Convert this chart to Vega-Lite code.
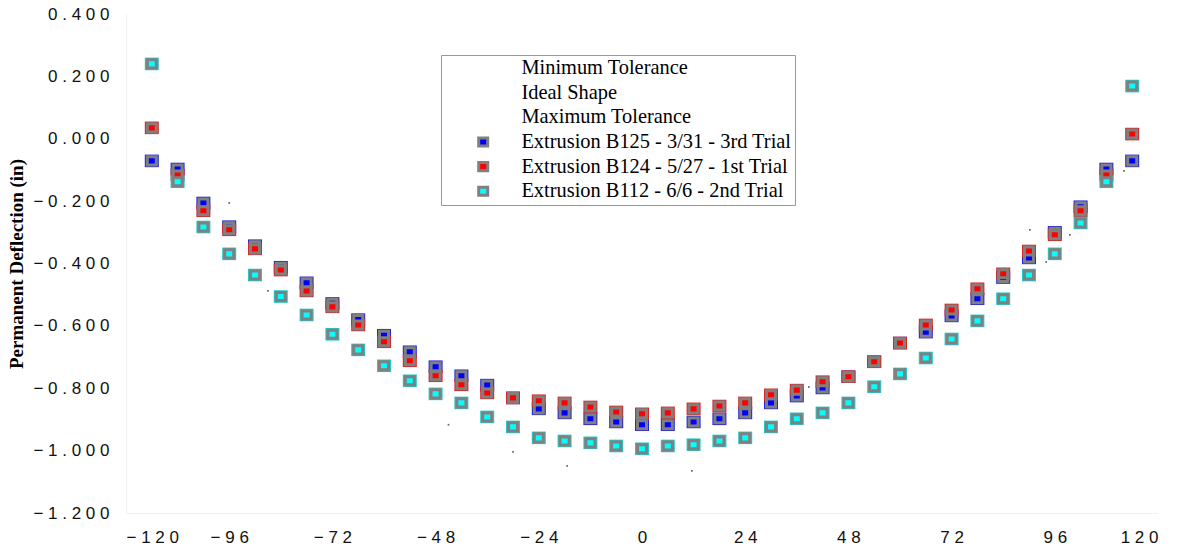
{
  "$schema": "https://vega.github.io/schema/vega-lite/v6.json",
  "width": 1032,
  "height": 499,
  "autosize": {"type": "none"},
  "padding": {"left": 126, "top": 14, "right": 35, "bottom": 39},
  "background": "white",
  "config": {
    "view": {"stroke": null},
    "axis": {
      "grid": false,
      "ticks": false,
      "domainColor": "#f2f2f2",
      "labelFont": "Liberation Sans",
      "labelFontSize": 17,
      "labelColor": "#111111",
      "labelPadding": 17
    },
    "legend": {
      "orient": "none",
      "legendX": 315,
      "legendY": 41,
      "fillColor": "white",
      "strokeColor": "#999999",
      "padding": 3,
      "labelFont": "Liberation Serif",
      "labelFontSize": 20.4,
      "labelColor": "#000000",
      "labelLimit": 500,
      "symbolType": "M-1,-0.9H1V0.9H-1Z",
      "symbolSize": 81,
      "symbolStrokeWidth": 3,
      "symbolOffset": 29,
      "labelOffset": 28,
      "rowPadding": 3.6
    }
  },
  "datasets": {
    "trials": [
      {"x": -114, "Extrusion B125 - 3/31 - 3rd Trial": -0.071, "Extrusion B124 - 5/27 - 1st Trial": 0.035, "Extrusion B112 - 6/6 - 2nd Trial": 0.240},
      {"x": -108, "Extrusion B125 - 3/31 - 3rd Trial": -0.097, "Extrusion B124 - 5/27 - 1st Trial": -0.116, "Extrusion B112 - 6/6 - 2nd Trial": -0.138},
      {"x": -102, "Extrusion B125 - 3/31 - 3rd Trial": -0.206, "Extrusion B124 - 5/27 - 1st Trial": -0.231, "Extrusion B112 - 6/6 - 2nd Trial": -0.283},
      {"x": -96, "Extrusion B125 - 3/31 - 3rd Trial": -0.282, "Extrusion B124 - 5/27 - 1st Trial": -0.292, "Extrusion B112 - 6/6 - 2nd Trial": -0.369},
      {"x": -90, "Extrusion B125 - 3/31 - 3rd Trial": -0.343, "Extrusion B124 - 5/27 - 1st Trial": -0.353, "Extrusion B112 - 6/6 - 2nd Trial": -0.437},
      {"x": -84, "Extrusion B125 - 3/31 - 3rd Trial": -0.412, "Extrusion B124 - 5/27 - 1st Trial": -0.421, "Extrusion B112 - 6/6 - 2nd Trial": -0.506},
      {"x": -78, "Extrusion B125 - 3/31 - 3rd Trial": -0.462, "Extrusion B124 - 5/27 - 1st Trial": -0.488, "Extrusion B112 - 6/6 - 2nd Trial": -0.565},
      {"x": -72, "Extrusion B125 - 3/31 - 3rd Trial": -0.528, "Extrusion B124 - 5/27 - 1st Trial": -0.539, "Extrusion B112 - 6/6 - 2nd Trial": -0.627},
      {"x": -66, "Extrusion B125 - 3/31 - 3rd Trial": -0.580, "Extrusion B124 - 5/27 - 1st Trial": -0.597, "Extrusion B112 - 6/6 - 2nd Trial": -0.677},
      {"x": -60, "Extrusion B125 - 3/31 - 3rd Trial": -0.630, "Extrusion B124 - 5/27 - 1st Trial": -0.651, "Extrusion B112 - 6/6 - 2nd Trial": -0.728},
      {"x": -54, "Extrusion B125 - 3/31 - 3rd Trial": -0.683, "Extrusion B124 - 5/27 - 1st Trial": -0.712, "Extrusion B112 - 6/6 - 2nd Trial": -0.776},
      {"x": -48, "Extrusion B125 - 3/31 - 3rd Trial": -0.731, "Extrusion B124 - 5/27 - 1st Trial": -0.760, "Extrusion B112 - 6/6 - 2nd Trial": -0.818},
      {"x": -42, "Extrusion B125 - 3/31 - 3rd Trial": -0.760, "Extrusion B124 - 5/27 - 1st Trial": -0.789, "Extrusion B112 - 6/6 - 2nd Trial": -0.847},
      {"x": -36, "Extrusion B125 - 3/31 - 3rd Trial": -0.790, "Extrusion B124 - 5/27 - 1st Trial": -0.815, "Extrusion B112 - 6/6 - 2nd Trial": -0.892},
      {"x": -30, "Extrusion B125 - 3/31 - 3rd Trial": -0.831, "Extrusion B124 - 5/27 - 1st Trial": -0.831, "Extrusion B112 - 6/6 - 2nd Trial": -0.924},
      {"x": -24, "Extrusion B125 - 3/31 - 3rd Trial": -0.866, "Extrusion B124 - 5/27 - 1st Trial": -0.840, "Extrusion B112 - 6/6 - 2nd Trial": -0.959},
      {"x": -18, "Extrusion B125 - 3/31 - 3rd Trial": -0.879, "Extrusion B124 - 5/27 - 1st Trial": -0.847, "Extrusion B112 - 6/6 - 2nd Trial": -0.969},
      {"x": -12, "Extrusion B125 - 3/31 - 3rd Trial": -0.898, "Extrusion B124 - 5/27 - 1st Trial": -0.860, "Extrusion B112 - 6/6 - 2nd Trial": -0.975},
      {"x": -6, "Extrusion B125 - 3/31 - 3rd Trial": -0.908, "Extrusion B124 - 5/27 - 1st Trial": -0.876, "Extrusion B112 - 6/6 - 2nd Trial": -0.985},
      {"x": 0, "Extrusion B125 - 3/31 - 3rd Trial": -0.917, "Extrusion B124 - 5/27 - 1st Trial": -0.882, "Extrusion B112 - 6/6 - 2nd Trial": -0.994},
      {"x": 6, "Extrusion B125 - 3/31 - 3rd Trial": -0.917, "Extrusion B124 - 5/27 - 1st Trial": -0.879, "Extrusion B112 - 6/6 - 2nd Trial": -0.985},
      {"x": 12, "Extrusion B125 - 3/31 - 3rd Trial": -0.908, "Extrusion B124 - 5/27 - 1st Trial": -0.866, "Extrusion B112 - 6/6 - 2nd Trial": -0.981},
      {"x": 18, "Extrusion B125 - 3/31 - 3rd Trial": -0.898, "Extrusion B124 - 5/27 - 1st Trial": -0.857, "Extrusion B112 - 6/6 - 2nd Trial": -0.969},
      {"x": 24, "Extrusion B125 - 3/31 - 3rd Trial": -0.879, "Extrusion B124 - 5/27 - 1st Trial": -0.847, "Extrusion B112 - 6/6 - 2nd Trial": -0.959},
      {"x": 30, "Extrusion B125 - 3/31 - 3rd Trial": -0.847, "Extrusion B124 - 5/27 - 1st Trial": -0.821, "Extrusion B112 - 6/6 - 2nd Trial": -0.924},
      {"x": 36, "Extrusion B125 - 3/31 - 3rd Trial": -0.825, "Extrusion B124 - 5/27 - 1st Trial": -0.806, "Extrusion B112 - 6/6 - 2nd Trial": -0.898},
      {"x": 42, "Extrusion B125 - 3/31 - 3rd Trial": -0.799, "Extrusion B124 - 5/27 - 1st Trial": -0.779, "Extrusion B112 - 6/6 - 2nd Trial": -0.879},
      {"x": 48, "Extrusion B125 - 3/31 - 3rd Trial": -0.763, "Extrusion B124 - 5/27 - 1st Trial": -0.763, "Extrusion B112 - 6/6 - 2nd Trial": -0.847},
      {"x": 54, "Extrusion B125 - 3/31 - 3rd Trial": -0.715, "Extrusion B124 - 5/27 - 1st Trial": -0.715, "Extrusion B112 - 6/6 - 2nd Trial": -0.795},
      {"x": 60, "Extrusion B125 - 3/31 - 3rd Trial": -0.655, "Extrusion B124 - 5/27 - 1st Trial": -0.655, "Extrusion B112 - 6/6 - 2nd Trial": -0.754},
      {"x": 66, "Extrusion B125 - 3/31 - 3rd Trial": -0.620, "Extrusion B124 - 5/27 - 1st Trial": -0.597, "Extrusion B112 - 6/6 - 2nd Trial": -0.703},
      {"x": 72, "Extrusion B125 - 3/31 - 3rd Trial": -0.568, "Extrusion B124 - 5/27 - 1st Trial": -0.549, "Extrusion B112 - 6/6 - 2nd Trial": -0.642},
      {"x": 78, "Extrusion B125 - 3/31 - 3rd Trial": -0.513, "Extrusion B124 - 5/27 - 1st Trial": -0.481, "Extrusion B112 - 6/6 - 2nd Trial": -0.584},
      {"x": 84, "Extrusion B125 - 3/31 - 3rd Trial": -0.445, "Extrusion B124 - 5/27 - 1st Trial": -0.433, "Extrusion B112 - 6/6 - 2nd Trial": -0.513},
      {"x": 90, "Extrusion B125 - 3/31 - 3rd Trial": -0.382, "Extrusion B124 - 5/27 - 1st Trial": -0.360, "Extrusion B112 - 6/6 - 2nd Trial": -0.437},
      {"x": 96, "Extrusion B125 - 3/31 - 3rd Trial": -0.300, "Extrusion B124 - 5/27 - 1st Trial": -0.308, "Extrusion B112 - 6/6 - 2nd Trial": -0.369},
      {"x": 102, "Extrusion B125 - 3/31 - 3rd Trial": -0.218, "Extrusion B124 - 5/27 - 1st Trial": -0.231, "Extrusion B112 - 6/6 - 2nd Trial": -0.270},
      {"x": 108, "Extrusion B125 - 3/31 - 3rd Trial": -0.097, "Extrusion B124 - 5/27 - 1st Trial": -0.116, "Extrusion B112 - 6/6 - 2nd Trial": -0.138},
      {"x": 114, "Extrusion B125 - 3/31 - 3rd Trial": -0.071, "Extrusion B124 - 5/27 - 1st Trial": 0.015, "Extrusion B112 - 6/6 - 2nd Trial": 0.169}
    ],
    "dots": [
      {"x": -96, "y": -0.206},
      {"x": -87, "y": -0.488},
      {"x": -45, "y": -0.917},
      {"x": -30, "y": -1.004},
      {"x": -17.4, "y": -1.049},
      {"x": 11.6, "y": -1.065},
      {"x": 38.8, "y": -0.796},
      {"x": 90.2, "y": -0.292},
      {"x": 94, "y": -0.395},
      {"x": 99.5, "y": -0.308},
      {"x": 112.1, "y": -0.103}
    ]
  },
  "layer": [
    {
      "data": {"name": "dots"},
      "mark": {"type": "square", "size": 3, "color": "#666666", "opacity": 1},
      "encoding": {
        "x": {"field": "x", "type": "quantitative"},
        "y": {"field": "y", "type": "quantitative"}
      }
    },
    {
      "data": {"name": "trials"},
      "transform": [
        {"fold": ["Extrusion B125 - 3/31 - 3rd Trial", "Extrusion B124 - 5/27 - 1st Trial", "Extrusion B112 - 6/6 - 2nd Trial"], "as": ["series", "y"]}
      ],
      "mark": {"type": "point", "shape": "M-1,-0.9H1V0.9H-1Z", "filled": true, "size": 196, "opacity": 1},
      "encoding": {
        "x": {"field": "x", "type": "quantitative"},
        "y": {"field": "y", "type": "quantitative"},
        "color": {
          "field": "series",
          "type": "nominal",
          "scale": {
            "domain": ["Extrusion B125 - 3/31 - 3rd Trial", "Extrusion B124 - 5/27 - 1st Trial", "Extrusion B112 - 6/6 - 2nd Trial"],
            "range": ["#2525d8", "#d82525", "#25c8c8"]
          },
          "legend": null
        }
      }
    },
    {
      "data": {"name": "trials"},
      "transform": [
        {"fold": ["Extrusion B125 - 3/31 - 3rd Trial", "Extrusion B124 - 5/27 - 1st Trial", "Extrusion B112 - 6/6 - 2nd Trial"], "as": ["series", "y"]}
      ],
      "mark": {"type": "point", "shape": "M-1,-0.9H1V0.9H-1Z", "filled": true, "size": 81, "stroke": "#808080", "strokeWidth": 3, "opacity": 1},
      "encoding": {
        "x": {
          "field": "x",
          "type": "quantitative",
          "title": null,
          "scale": {"domain": [-120, 120], "nice": false, "zero": false},
          "axis": {
            "values": [-120, -96, -72, -48, -24, 0, 24, 48, 72, 96, 120],
            "labelExpr": "replace(join(split(format(datum.value,'d'),''),'\u00a0'),'-','-\u00a0')",
            "labelPadding": 16
          }
        },
        "y": {
          "field": "y",
          "type": "quantitative",
          "title": "Permanent Deflection (in)",
          "scale": {"domain": [-1.2, 0.4], "nice": false, "zero": false},
          "axis": {
            "values": [-1.2, -1, -0.8, -0.6, -0.4, -0.2, 0, 0.2, 0.4],
            "labelExpr": "replace(join(split(format(datum.value,'.3f'),''),'\u00a0'),'-','-\u00a0')",
            "titleFont": "Liberation Serif",
            "titleFontWeight": "bold",
            "titleFontSize": 19,
            "titleColor": "#000000",
            "titlePadding": 6
          }
        },
        "fill": {
          "field": "series",
          "type": "nominal",
          "scale": {
            "domain": ["Minimum Tolerance", "Ideal Shape", "Maximum Tolerance", "Extrusion B125 - 3/31 - 3rd Trial", "Extrusion B124 - 5/27 - 1st Trial", "Extrusion B112 - 6/6 - 2nd Trial"],
            "range": ["transparent", "transparent", "transparent", "#0000ff", "#ff0000", "#00ffff"]
          },
          "legend": {
            "title": null,
            "encoding": {
              "symbols": {
                "stroke": {
                  "condition": {"test": "indexof(datum.value, 'Extrusion') === 0", "value": "#808080"},
                  "value": "transparent"
                },
                "strokeWidth": {"value": 3}
              }
            }
          }
        }
      }
    }
  ]
}
